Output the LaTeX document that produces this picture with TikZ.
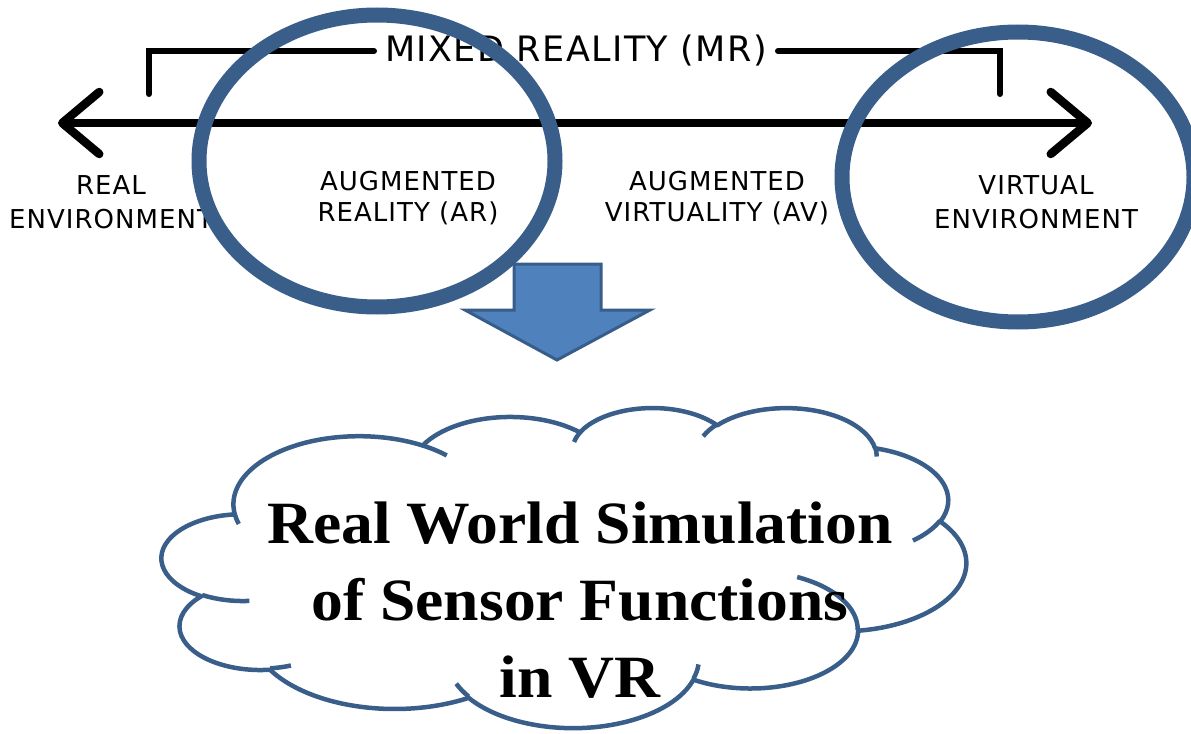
\documentclass[tikz,border=0pt]{standalone}
\usepackage{fontspec}
\usepackage{tikz}
\usetikzlibrary{arrows.meta}
\newfontfamily\contfont[LetterSpace=4]{DejaVu Sans}
\newfontfamily\cloudfont[FakeStretch=1.06]{Liberation Serif}
\definecolor{ringblue}{RGB}{58,94,138}
\definecolor{arrowfill}{RGB}{79,129,189}
\definecolor{arrowline}{RGB}{56,93,138}

% one arcTo of the office cloud: wR, hR, start angle, sweep (visual angles)
\newcommand\cloudarc[4]{%
  \pgfextra{%
    \pgfmathparse{atan2((#1)*sin(#3),(#2)*cos(#3))}\xdef\arcbeg{\pgfmathresult}%
    \pgfmathparse{atan2((#1)*sin((#3)+(#4)),(#2)*cos((#3)+(#4)))}\xdef\arcend{\pgfmathresult}%
    \pgfmathparse{\arcend<\arcbeg ? \arcend+360 : \arcend}\xdef\arcend{\pgfmathresult}}%
  arc[start angle=\arcbeg, end angle=\arcend, x radius=#1, y radius=#2]}

\begin{document}
\begin{tikzpicture}[x=1bp,y=-1bp,
    lbl/.style={font=\contfont\fontsize{26bp}{34bp}\selectfont,align=center,inner sep=0pt},
    lbltight/.style={lbl,font=\contfont\fontsize{26bp}{31bp}\selectfont},
    ring/.style={draw=ringblue,line width=15bp},
    bracket/.style={line width=6bp,line cap=round},
    cloudline/.style={draw=ringblue,line width=4.5bp,line join=round}]
  \useasboundingbox (0,0) rectangle (1191,734);

  % continuum labels
  \node[lbl] (re) at (111,202) {REAL\\ENVIRONMENT};
  \node[lbltight] (ar) at (408,198) {AUGMENTED\\REALITY (AR)};
  \node[lbltight] (av) at (717,198) {AUGMENTED\\VIRTUALITY (AV)};
  \node[lbl] (ve) at (1036,202) {VIRTUAL\\ENVIRONMENT};

  % the continuum arrow
  \coordinate (realend) at (58,123);
  \coordinate (virtend) at (1092,123);
  \draw[line width=8.5bp,{Straight Barb[length=37bp,width=62bp,round]}-{Straight Barb[length=37bp,width=62bp,round]}]
    (realend) -- (virtend);

  % MR bracket
  \node[font=\contfont\fontsize{35bp}{40bp}\selectfont,anchor=base,inner xsep=11bp,inner ysep=0pt] (mr) at (576,62) {MIXED REALITY (MR)};
  \coordinate (mrleft) at (149,94);
  \coordinate (mrright) at (1000,94);
  \draw[bracket] (mr.west) -| (mrleft);
  \draw[bracket] (mr.east) -| (mrright);

  % rings
  \draw[ring] (377,161) ellipse [x radius=178, y radius=146];
  \draw[ring] (1018,177) ellipse [x radius=176, y radius=145];

  % block arrow
  \draw[fill=arrowfill,draw=arrowline,line width=3bp]
    (514,264) -- (601,264) -- (601,310) -- (650,310) -- (557,360) -- (465,310) -- (514,310) -- cycle;

  % cloud
  \begin{scope}[shift={(162,407)},x=1.8611bp,y=-0.7407bp]
    \draw[cloudline] (39.00,143.70)
      \cloudarc{67.53}{91.90}{-190.4875}{123.7805}
      \cloudarc{53.33}{72.67}{-144.1024}{89.9452}
      \cloudarc{43.65}{59.45}{-145.8079}{99.7230}
      \cloudarc{48.57}{65.95}{-130.9861}{117.2417}
      \cloudarc{53.33}{72.73}{-78.7089}{109.0269}
      \cloudarc{67.75}{92.20}{-46.2673}{130.2690}
      \cloudarc{57.85}{78.67}{0.6250}{114.0333}
      \cloudarc{67.52}{92.15}{22.4516}{115.1726}
      \cloudarc{77.20}{105.43}{66.2426}{75.7110}
      \cloudarc{43.60}{59.18}{-274.9421}{146.7356}
      \cloudarc{43.45}{59.45}{-246.8285}{152.5189}
      -- cycle;
    \draw[cloudline]
      (46.93,261.77) \cloudarc{43.45}{59.45}{86.7420}{26.4295}
      (69.28,348.99) \cloudarc{43.60}{59.18}{73.6105}{11.4475}
      (164.78,390.90) \cloudarc{67.52}{92.15}{137.6242}{14.0811}
      (288.27,347.51) \cloudarc{67.52}{92.15}{6.4533}{15.9984}
      (341.29,229.54) \cloudarc{57.85}{78.67}{-70.2924}{70.9174}
      (417.98,153.54) \cloudarc{53.33}{72.73}{30.3180}{27.7515}
      (383.24,54.26) \cloudarc{48.57}{65.95}{-13.7443}{14.8589}
      (290.78,39.52) \cloudarc{48.57}{65.95}{-149.1815}{18.1954}
      (221.41,47.20) \cloudarc{43.65}{59.45}{-163.4943}{17.6864}
      (140.00,51.92) \cloudarc{67.53}{91.90}{-66.7070}{12.3194}
      (41.27,157.89) \cloudarc{67.53}{91.90}{157.6544}{11.8582};
  \end{scope}

  % cloud text
  \node[font=\cloudfont\bfseries\fontsize{60bp}{77bp}\selectfont,align=center,inner sep=0pt] (sim) at (580,600)
    {Real World Simulation\\of Sensor Functions\\in VR};
\end{tikzpicture}
\end{document}
